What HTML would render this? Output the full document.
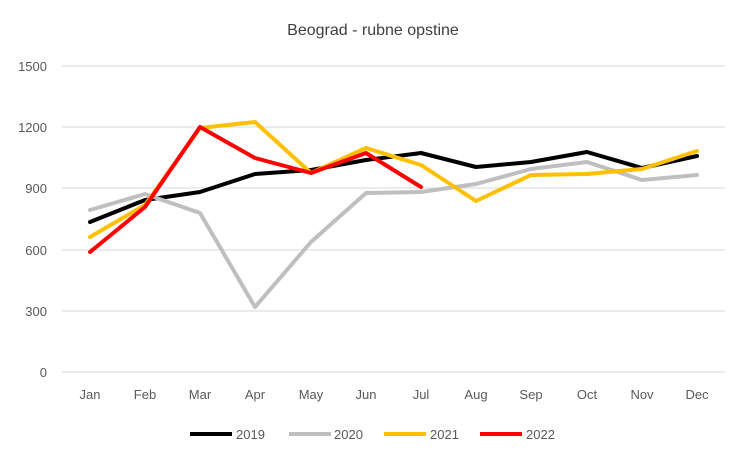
<!DOCTYPE html>
<html><head><meta charset="utf-8"><style>
body{margin:0;background:#fff;}
svg{display:block;font-family:"Liberation Sans",sans-serif;}
</style></head><body>
<svg width="747" height="462" viewBox="0 0 747 462">
<rect width="747" height="462" fill="#fff"/>
<text x="373" y="35" text-anchor="middle" font-size="16" fill="#404040">Beograd - rubne opstine</text>
<g stroke="#d9d9d9" stroke-width="1">
<line x1="62" x2="725" y1="66" y2="66"/>
<line x1="62" x2="725" y1="127" y2="127"/>
<line x1="62" x2="725" y1="188" y2="188"/>
<line x1="62" x2="725" y1="250" y2="250"/>
<line x1="62" x2="725" y1="311" y2="311"/>
<line x1="62" x2="725" y1="372" y2="372"/>
</g>
<g font-size="13" fill="#595959" text-anchor="end">
<text x="47" y="71">1500</text><text x="47" y="132">1200</text><text x="47" y="193">900</text>
<text x="47" y="255">600</text><text x="47" y="316">300</text><text x="47" y="377">0</text>
</g>
<g font-size="13" fill="#595959" text-anchor="middle">
<text x="90" y="399">Jan</text><text x="145" y="399">Feb</text><text x="200" y="399">Mar</text>
<text x="255" y="399">Apr</text><text x="311" y="399">May</text><text x="366" y="399">Jun</text>
<text x="421" y="399">Jul</text><text x="476" y="399">Aug</text><text x="531" y="399">Sep</text>
<text x="587" y="399">Oct</text><text x="642" y="399">Nov</text><text x="697" y="399">Dec</text>
</g>
<g fill="none" stroke-width="4" stroke-linejoin="round" stroke-linecap="round">
<polyline stroke="#000" points="90,222 145,200 200,192 255,174 311,170 366,160 421,153 476,167 531,162 587,152 642,168 697,156"/>
<polyline stroke="#bfbfbf" points="90,210 145,194 200,213 255,307 311,242 366,193 421,192 476,184 531,169 587,162 642,180 697,175"/>
<polyline stroke="#ffc000" points="90,237 145,205 200,128 255,122 311,173 366,148 421,165 476,201 531,175 587,174 642,169 697,151"/>
<polyline stroke="#ff0000" points="90,252 145,207 200,127 255,158 311,173 366,153 421,187"/>
</g>
<g stroke-width="4">
<line x1="190" x2="232" y1="434" y2="434" stroke="#000"/>
<line x1="289" x2="331" y1="434" y2="434" stroke="#bfbfbf"/>
<line x1="384" x2="426" y1="434" y2="434" stroke="#ffc000"/>
<line x1="480" x2="522" y1="434" y2="434" stroke="#ff0000"/>
</g>
<g font-size="13" fill="#595959">
<text x="236" y="439">2019</text><text x="334" y="439">2020</text>
<text x="430" y="439">2021</text><text x="526" y="439">2022</text>
</g>
</svg>
</body></html>
